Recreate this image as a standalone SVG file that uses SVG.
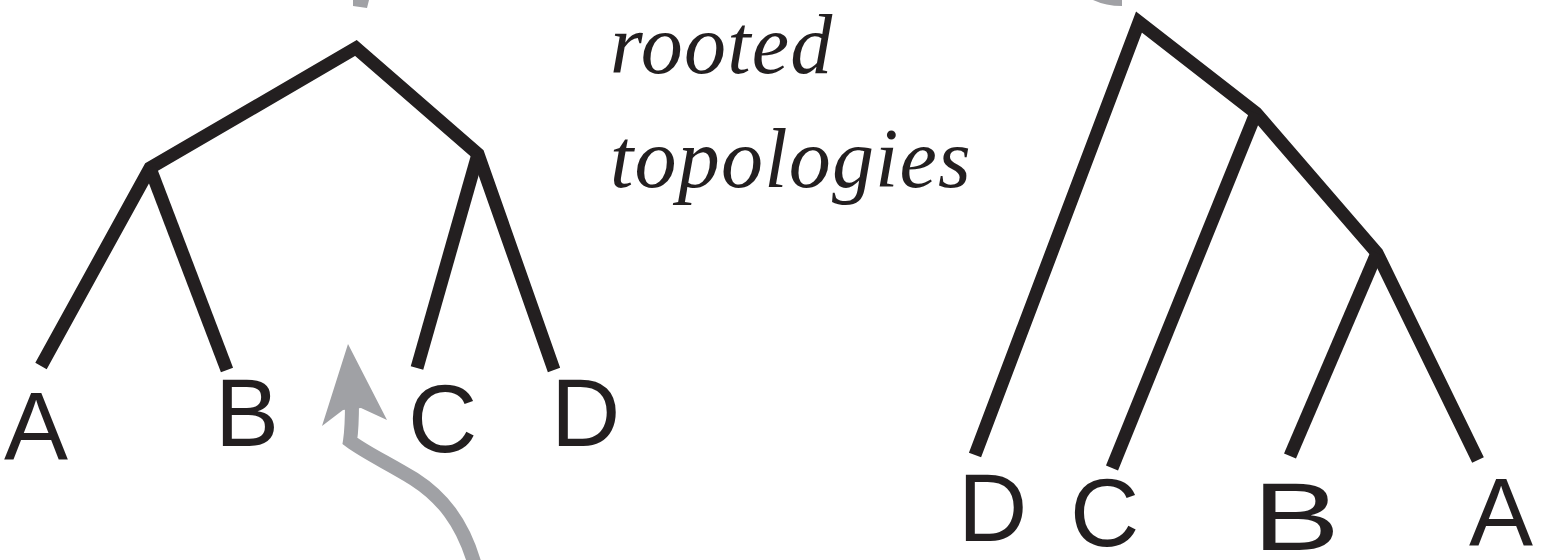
<svg xmlns="http://www.w3.org/2000/svg" width="1546" height="560" viewBox="0 0 1546 560">
  <style>
    .branch { fill: none; stroke: #231f20; stroke-width: 13; stroke-linecap: butt; stroke-linejoin: miter; stroke-miterlimit: 10; }
    .leaf { font-family: "Liberation Sans", Arial, sans-serif; font-size: 96px; fill: #231f20; }
    .caption { font-family: "Liberation Serif", "Times New Roman", serif; font-style: italic; font-size: 84px; letter-spacing: 1.2px; fill: #231f20; }
    .flow { fill: none; stroke: #a0a1a5; stroke-width: 14; }
    .flowhead { fill: #a0a1a5; stroke: none; }
  </style>

  <!-- grey arrows between the two topologies -->
  <g id="connectors">
    <polygon class="flowhead" points="353,0 369,0 367,8 353,6"/>
    <path class="flowhead" d="M1093,0 Q1106,6 1122,6 L1122,0 Z"/>
    <path class="flow" d="M474,562 C462,522 442,497 414,479 C388,463 366,453 350,441 C352,428 352,418 352,402"/>
    <polygon class="flowhead" points="348,344 387,420 361,408 343,410 322,426"/>
  </g>

  <!-- left tree: ((A,B),(C,D)) -->
  <g id="tree-left">
    <path class="branch" d="M41,366 L150,168 L356,48 L478,154 L554,370"/>
    <path class="branch" d="M150,168 L227,370"/>
    <path class="branch" d="M478,154 L417,368"/>
  </g>
  <g id="leaf-left-A"><text class="leaf" x="4" y="459">A</text></g>
  <g id="leaf-left-B"><text class="leaf" x="215" y="446">B</text></g>
  <g id="leaf-left-C"><text class="leaf" x="408" y="452">C</text></g>
  <g id="leaf-left-D"><text class="leaf" x="551" y="446">D</text></g>

  <!-- caption -->
  <g id="caption">
    <text class="caption" x="610" y="73">rooted</text>
    <text class="caption" x="610" y="187">topologies</text>
  </g>

  <!-- right tree: (D,(C,(B,A))) -->
  <g id="tree-right">
    <path class="branch" d="M975,455 L1139,22 L1256,113 L1377,253 L1478,460"/>
    <path class="branch" d="M1256,113 L1112,468"/>
    <path class="branch" d="M1377,253 L1290,456"/>
  </g>
  <g id="leaf-right-D"><text class="leaf" x="958" y="541">D</text></g>
  <g id="leaf-right-C"><text class="leaf" x="1070" y="546">C</text></g>
  <g id="leaf-right-B"><text class="leaf" transform="translate(1262,550) scale(1.365,1)" x="-7" y="0">B</text></g>
  <g id="leaf-right-A"><text class="leaf" x="1469" y="545">A</text></g>
</svg>
